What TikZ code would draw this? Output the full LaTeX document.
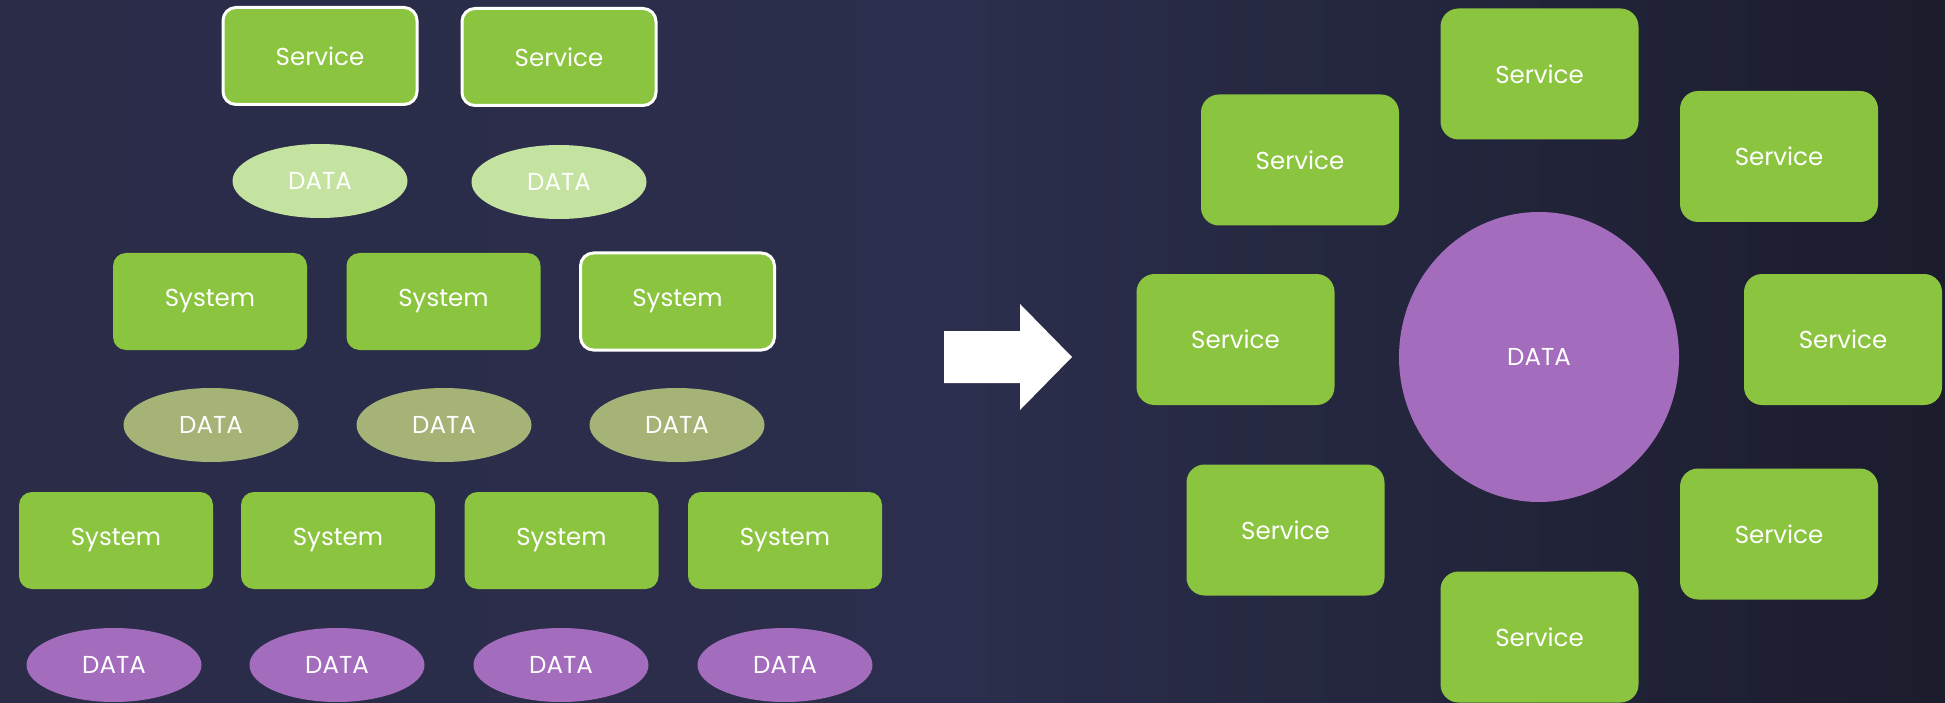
\documentclass[tikz,border=0pt]{standalone}
\usepackage{fontspec}
\setmainfont{Poppins}
\usetikzlibrary{shapes.geometric}
\definecolor{bgL}{HTML}{2A2C48}
\definecolor{bgM}{HTML}{2B2E4C}
\definecolor{bgR}{HTML}{1B1C2C}
\definecolor{grn}{HTML}{8BC43F}
\definecolor{lgrn}{HTML}{C5E3A0}
\definecolor{olv}{HTML}{A6B376}
\definecolor{prp}{HTML}{A46CBD}
\tikzset{
  lbl/.style={text=white, font=\fontsize{24.5}{28}\selectfont},
  box/.style={lbl, rectangle, fill=grn, rounded corners=13pt, inner sep=0pt},
  sysbox/.style={box, minimum width=194pt, minimum height=97pt},
  svcbox/.style={box, minimum width=194pt, minimum height=97pt, draw=white, line width=3pt},
  bigbox/.style={box, rounded corners=18pt, minimum width=198pt, minimum height=131pt},
  blob/.style={lbl, ellipse, inner sep=0pt, minimum width=175pt, minimum height=74pt},
  dlight/.style={blob, fill=lgrn},
  dolive/.style={blob, fill=olv},
  dpurp/.style={blob, fill=prp},
}
\begin{document}
\begin{tikzpicture}[x=1pt,y=-1pt]
\useasboundingbox (0,0) rectangle (1945,703);
\shade[left color=bgL, right color=bgR, middle color=bgM] (0,0) rectangle (1945,703);
% left: layered
\node[svcbox] (s1) at (320,56) {Service};
\node[svcbox] (s2) at (559,57) {Service};
\node[dlight] (d1) at (320,181) {DATA};
\node[dlight] (d2) at (559,182) {DATA};
\node[sysbox] (y1) at (210,301.5) {System};
\node[sysbox] (y2) at (443.5,301.5) {System};
\node[svcbox] (y3) at (677.5,301.5) {System};
\node[dolive] (o1) at (211,425) {DATA};
\node[dolive] (o2) at (444,425) {DATA};
\node[dolive] (o3) at (677,425) {DATA};
\node[sysbox] (z1) at (116,540.5) {System};
\node[sysbox] (z2) at (338,540.5) {System};
\node[sysbox] (z3) at (561.5,540.5) {System};
\node[sysbox] (z4) at (785,540.5) {System};
\node[dpurp] (p1) at (114,665) {DATA};
\node[dpurp] (p2) at (337,665) {DATA};
\node[dpurp] (p3) at (561,665) {DATA};
\node[dpurp] (p4) at (785,665) {DATA};
% arrow
\fill[white] (944,331) -- (1020,331) -- (1020,304) -- (1072,357) -- (1020,410) -- (1020,383) -- (944,383) -- cycle;
% right: hub
\node[lbl, ellipse, fill=prp, inner sep=0pt, minimum width=280pt, minimum height=290pt] (hub) at (1539,357) {DATA};
\node[bigbox] (r1) at (1539.5,74) {Service};
\node[bigbox] (r2) at (1300,160) {Service};
\node[bigbox] (r3) at (1779,156.5) {Service};
\node[bigbox] (r4) at (1235.5,339.5) {Service};
\node[bigbox] (r5) at (1843,339.5) {Service};
\node[bigbox] (r6) at (1285.5,530) {Service};
\node[bigbox] (r7) at (1779,534) {Service};
\node[bigbox] (r8) at (1539.5,637) {Service};
\end{tikzpicture}
\end{document}
